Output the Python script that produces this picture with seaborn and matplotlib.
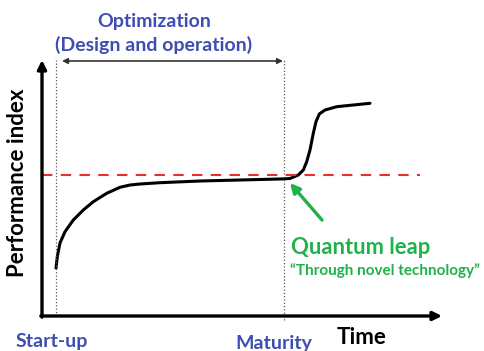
import numpy as np
import pandas as pd
import matplotlib.pyplot as plt
import seaborn as sns

# curve (time, performance index), arbitrary units
time = [14, 15.3, 18, 23, 31.3, 41.3, 51.3, 64.7, 78, 88, 98, 118, 158, 198, 238,
        248, 256.3, 261.3, 264.7, 268, 271.3, 274, 277.3, 283, 294.7, 311.3, 328]
perf = [48, 59.3, 73, 84.3, 96, 106, 114.3, 122.7, 128.7, 131, 132, 133.3, 135, 136, 137,
        137.5, 141, 146, 154.3, 166, 182.7, 194.3, 202, 206, 209.3, 211, 212.7]
baseline = 141          # red dashed level
startup_t = 14
maturity_t = 242

BLUE = '#3f4db3'
GREEN = '#1fb24a'

sns.set_style('white')
plt.rcParams['font.family'] = ['Lato', 'DejaVu Sans']

fig = plt.figure(figsize=(4.84, 3.51), dpi=100)
ax = fig.add_axes([42/484, 35/351, 398/484, 252/351])
ax.set_xlim(0, 398)
ax.set_ylim(0, 252)
ax.axis('off')

df = pd.DataFrame({'time': time, 'perf': perf})
sns.lineplot(data=df, x='time', y='perf', sort=False, color='black', lw=2.2, ax=ax)

# axes with arrow heads
ax.annotate('', xy=(0, 256), xytext=(0, -1.2), annotation_clip=False,
            arrowprops=dict(arrowstyle='-|>', color='black', lw=2.4, mutation_scale=13, shrinkA=0, shrinkB=0))
ax.annotate('', xy=(400, 0), xytext=(-1.2, 0), annotation_clip=False,
            arrowprops=dict(arrowstyle='-|>', color='black', lw=2.4, mutation_scale=13, shrinkA=0, shrinkB=0))

# dotted phase markers
ax.plot([startup_t, startup_t], [0, 256], ls=':', color='#555555', lw=0.9, clip_on=False)
ax.plot([maturity_t, maturity_t], [-4, 256], ls=':', color='#555555', lw=0.9, clip_on=False)

# baseline
ax.plot([0, 378], [baseline, baseline], ls=(0, (5, 4)), color='#e8302a', lw=1.5)

# optimization span arrow
ax.annotate('', xy=(20, 255), xytext=(241, 255), annotation_clip=False,
            arrowprops=dict(arrowstyle='<|-|>', color='#333333', lw=1.2, mutation_scale=8, shrinkA=0, shrinkB=0))
fig.text(154/484, 1 - 22/351, 'Optimization', color=BLUE, fontsize=14, fontweight='bold', ha='center', va='center')
fig.text(154/484, 1 - 45/351, '(Design and operation)', color=BLUE, fontsize=14, fontweight='bold', ha='center', va='center')

# green arrow and label
ax.annotate('', xy=(248, 133), xytext=(280, 96),
            arrowprops=dict(arrowstyle='-|>', color=GREEN, lw=2.4, mutation_scale=14, shrinkA=0, shrinkB=0))
fig.text(291/484, 1 - 248/351, 'Quantum leap', color=GREEN, fontsize=15.8, fontweight='bold', ha='left', va='center')
fig.text(290/484, 1 - 271/351, '\u201cThrough novel technology\u201d', color=GREEN, fontsize=11, fontweight='bold', ha='left', va='center')

# axis labels
fig.text(18/484, 1 - 183/351, 'Performance index', color='black', fontsize=16, fontweight='bold',
         rotation=90, ha='center', va='center')
fig.text(362/484, 1 - 337/351, 'Time', color='black', fontsize=16, fontweight='bold', ha='center', va='center')
fig.text(52/484, 1 - 342/351, 'Start-up', color=BLUE, fontsize=14, fontweight='bold', ha='center', va='center')
fig.text(274/484, 1 - 344/351, 'Maturity', color=BLUE, fontsize=14, fontweight='bold', ha='center', va='center')

fig.savefig('out.png', dpi=100)
